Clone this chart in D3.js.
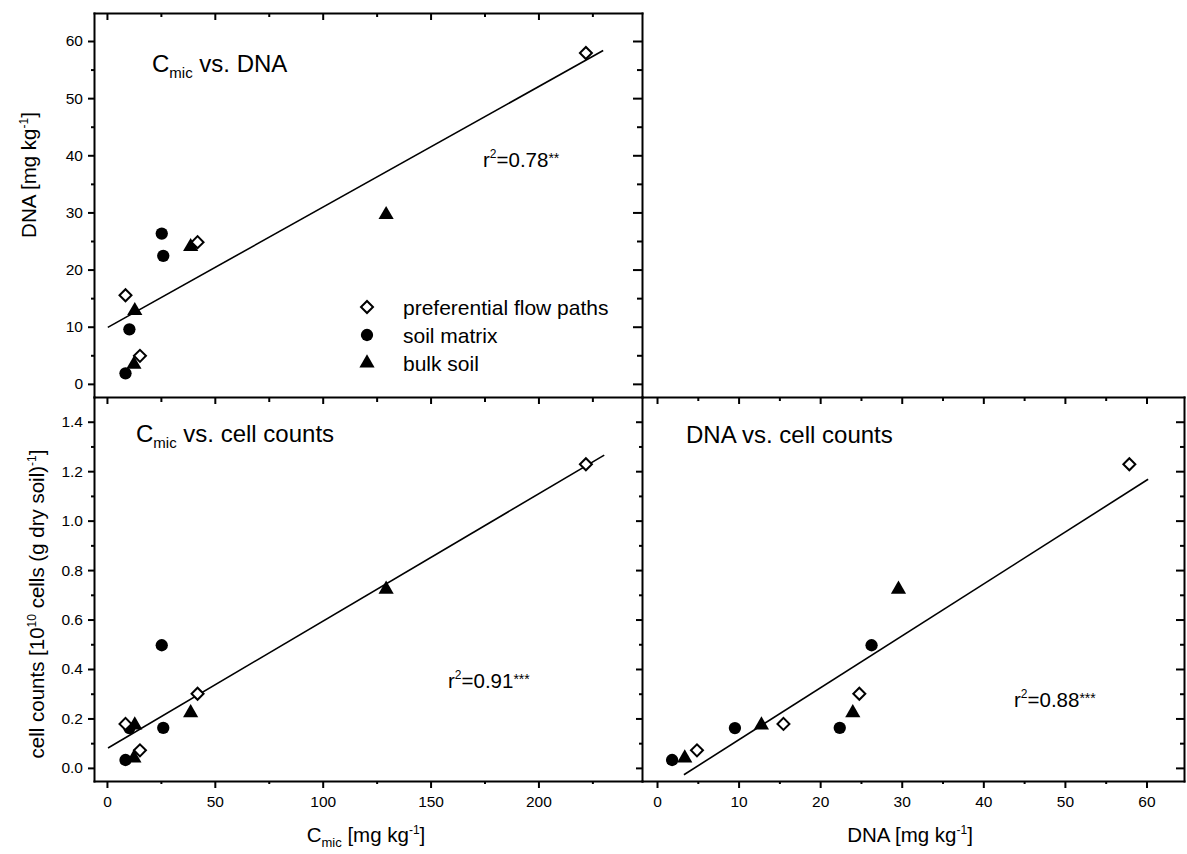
<!DOCTYPE html>
<html>
<head>
<meta charset="utf-8">
<script src="https://cdn.jsdelivr.net/npm/d3@7"></script>
<style>
  html, body { margin: 0; padding: 0; background: #fff; }
  svg { display: block; font-family: "Liberation Sans", Arial, Helvetica, sans-serif; }
</style>
</head>
<body>
<svg id="chart" width="1187" height="854"></svg>
<script>
// ---- data: one entry per soil sample ----
const sampleGroup = ["pfp", "pfp", "pfp", "pfp", "sm", "sm", "sm", "sm", "bs", "bs", "bs", "bs"];
const cmic  = [222, 42, 8.6, 15.3,   25.4, 26.1, 10.4, 8.6,    129.4, 38.8, 12.9, 12.5];   // mg kg-1
const dna   = [57.9, 24.8, 15.5, 4.9, 26.3, 22.4, 9.55, 1.85,  29.6, 24.0, 12.8, 3.4];    // mg kg-1
const cells = [1.228, 0.30, 0.178, 0.071, 0.496, 0.162, 0.161, 0.032, 0.722, 0.223, 0.173, 0.04]; // 10^10 cells g-1

const groupKeys   = ["pfp", "sm", "bs"];
const groupLabels = ["preferential flow paths", "soil matrix", "bulk soil"];

// ---- linear regressions: [intercept, slope] and fitted x range ----
const fitCmicDna        = [9.8, 0.211];
const fitCmicDnaRange   = [0.4, 230];
const fitCmicCells      = [0.078, 0.00515];
const fitCmicCellsRange = [0.5, 230.5];
const fitDnaCells       = [-0.097, 0.021];
const fitDnaCellsRange  = [3.3, 60.2];
const r2Values = ["0.78", "0.91", "0.88"];
const r2Stars  = ["**", "***", "***"];

// ---- tick values ----
const cmicTicks  = [0, 50, 100, 150, 200];
const cmicMinor  = [25, 75, 125, 175, 225];
const dnaTicks   = [0, 10, 20, 30, 40, 50, 60];
const dnaMinor   = [5, 15, 25, 35, 45, 55];
const cellTicks  = [0, 0.2, 0.4, 0.6, 0.8, 1.0, 1.2, 1.4];
const cellMinor  = [0.1, 0.3, 0.5, 0.7, 0.9, 1.1, 1.3];

// ---- layout ----
const svg = d3.select("#chart");
const L = 94, M = 642, R = 1184, T = 13, MY = 397, B = 781;
const FONT = '"Liberation Sans", Arial, Helvetica, sans-serif';

const xC = d3.scaleLinear().domain([-6, 248]).range([L, M]);        // Cmic (top & bottom-left)
const yD = d3.scaleLinear().domain([-2.3, 64.9]).range([MY, T]);    // DNA (top)
const yN = d3.scaleLinear().domain([-0.053, 1.5]).range([B, MY]);   // cell counts (bottom)
const xD = d3.scaleLinear().domain([-1.84, 64.6]).range([M, R]);    // DNA (bottom-right)

const axisMakers = { left: d3.axisLeft, right: d3.axisRight, top: d3.axisTop, bottom: d3.axisBottom };

function drawAxis(orient, scale, tx, ty, major, minor, majLen, minLen, fmt, pad) {
  const make = axisMakers[orient];
  const gMin = svg.append("g").attr("transform", `translate(${tx},${ty})`);
  gMin.call(make(scale).tickValues(minor).tickSize(minLen).tickSizeOuter(0).tickFormat(""));
  gMin.select(".domain").remove();
  const g = svg.append("g").attr("transform", `translate(${tx},${ty})`);
  g.call(make(scale).tickValues(major).tickSize(majLen).tickSizeOuter(0)
    .tickPadding(pad || 4).tickFormat(fmt || ""));
  [gMin, g].forEach(s => {
    s.attr("font-family", FONT).attr("font-size", 15.5);
    s.selectAll(".tick line").attr("stroke", "#000").attr("stroke-width", 2);
    s.selectAll(".tick text").attr("fill", "#000");
  });
  g.select(".domain").attr("stroke", "#000").attr("stroke-width", 2).attr("stroke-linecap", "square");
}

const fmtInt = d3.format("d");
const fmt1 = d3.format(".1f");

// top panel: Cmic vs. DNA
drawAxis("left",   yD, L, 0, dnaTicks, dnaMinor, 6, 3, fmtInt, 5);
drawAxis("left",   yD, M, 0, dnaTicks, dnaMinor, 9, 5);
drawAxis("bottom", xC, 0, T, cmicTicks, cmicMinor, 7, 4);

// bottom-left panel: Cmic vs. cell counts
drawAxis("left",   yN, L, 0, cellTicks, cellMinor, 6, 3, fmt1, 5);
drawAxis("left",   yN, M, 0, cellTicks, cellMinor, 6, 3);
drawAxis("bottom", xC, 0, MY, cmicTicks, cmicMinor, 7, 5);
drawAxis("bottom", xC, 0, B, cmicTicks, cmicMinor, 7, 3, fmtInt, 8);

// bottom-right panel: DNA vs. cell counts
drawAxis("bottom", xD, 0, MY, dnaTicks, dnaMinor, 7, 4);
drawAxis("bottom", xD, 0, B, dnaTicks, dnaMinor, 7, 3, fmtInt, 8);
drawAxis("left",   yN, R, 0, cellTicks, cellMinor, 8, 4);

// ---- rich text helper: parts = [text, fontSize, shift] ----
function richText(x, y, parts, size, anchor, rotate) {
  const t = svg.append("text").attr("x", x).attr("y", y)
    .attr("font-family", FONT).attr("font-size", size).attr("fill", "#000")
    .attr("text-anchor", anchor || "start");
  if (rotate) t.attr("transform", `rotate(${rotate},${x},${y})`);
  let cur = 0;
  parts.forEach(p => {
    const s = t.append("tspan").text(p[0]);
    if (p[1]) s.attr("font-size", p[1]);
    const shift = p[2] || 0;
    if (shift !== cur) { s.attr("dy", shift - cur); cur = shift; }
  });
  return t;
}

// ---- fit lines ----
const fits = [
  { f: fitCmicDna,   r: fitCmicDnaRange,   x: xC, y: yD },
  { f: fitCmicCells, r: fitCmicCellsRange, x: xC, y: yN },
  { f: fitDnaCells,  r: fitDnaCellsRange,  x: xD, y: yN }
];
fits.forEach(d => {
  const pts = d.r.map(v => [v, d.f[0] + d.f[1] * v]);
  svg.append("path")
    .attr("d", d3.line().x(p => d.x(p[0])).y(p => d.y(p[1]))(pts))
    .attr("fill", "none").attr("stroke", "#000").attr("stroke-width", 1.6);
});

// ---- markers ----
const symbolOf = {
  pfp: d3.symbol().type(d3.symbolSquare).size(72),
  sm:  d3.symbol().type(d3.symbolCircle).size(119),
  bs:  d3.symbol().type(d3.symbolTriangle).size(100)
};
function marker(key, px, py) {
  const p = svg.append("path").attr("d", symbolOf[key]());
  if (key === "pfp") {
    p.attr("transform", `translate(${px},${py}) rotate(45)`)
     .attr("fill", "#fff").attr("stroke", "#000").attr("stroke-width", 2);
  } else {
    p.attr("transform", `translate(${px},${py})`).attr("fill", "#000");
  }
}
const panels = [
  { xv: cmic, yv: dna,   x: xC, y: yD },
  { xv: cmic, yv: cells, x: xC, y: yN },
  { xv: dna,  yv: cells, x: xD, y: yN }
];
const drawOrder = ["sm", "bs", "pfp"];
panels.forEach(pn => {
  drawOrder.forEach(k => {
    sampleGroup.forEach((g, i) => {
      if (g === k) marker(k, pn.x(pn.xv[i]), pn.y(pn.yv[i]));
    });
  });
});

// ---- legend ----
groupKeys.forEach((k, i) => {
  const cy = 307 + i * 28;
  marker(k, 367, cy);
  svg.append("text").attr("x", 403).attr("y", cy + 8)
    .attr("font-family", FONT).attr("font-size", 21).attr("fill", "#000")
    .text(groupLabels[i]);
});

// ---- panel titles ----
richText(152, 72,  [["C"], ["mic", 15, 6], [" vs. DNA", null, 0]], 24);
richText(136, 442, [["C"], ["mic", 15, 6], [" vs. cell counts", null, 0]], 24);
richText(686, 443, [["DNA vs. cell counts"]], 24);

// ---- r² annotations ----
const r2Pos = [[483, 167], [448, 688], [1014, 707]];
r2Pos.forEach((p, i) => {
  richText(p[0], p[1], [["r"], ["2", 12, -9], ["=" + r2Values[i], null, 0], [r2Stars[i], 14, -4]], 20.5);
});

// ---- axis titles ----
richText(36, 175, [["DNA [mg kg"], ["-1", 12, -8], ["]", null, 0]], 20.5, "middle", -90);
richText(44, 604, [["cell counts [10"], ["10", 12, -8], [" cells (g dry soil)", null, 0], ["-1", 12, -8], ["]", null, 0]], 20.5, "middle", -90);
richText(366, 842, [["C"], ["mic", 13, 5], [" [mg kg", null, 0], ["-1", 12, -8], ["]", null, 0]], 20.5, "middle");
richText(910, 842, [["DNA [mg kg"], ["-1", 12, -8], ["]", null, 0]], 20.5, "middle");
</script>
</body>
</html>
